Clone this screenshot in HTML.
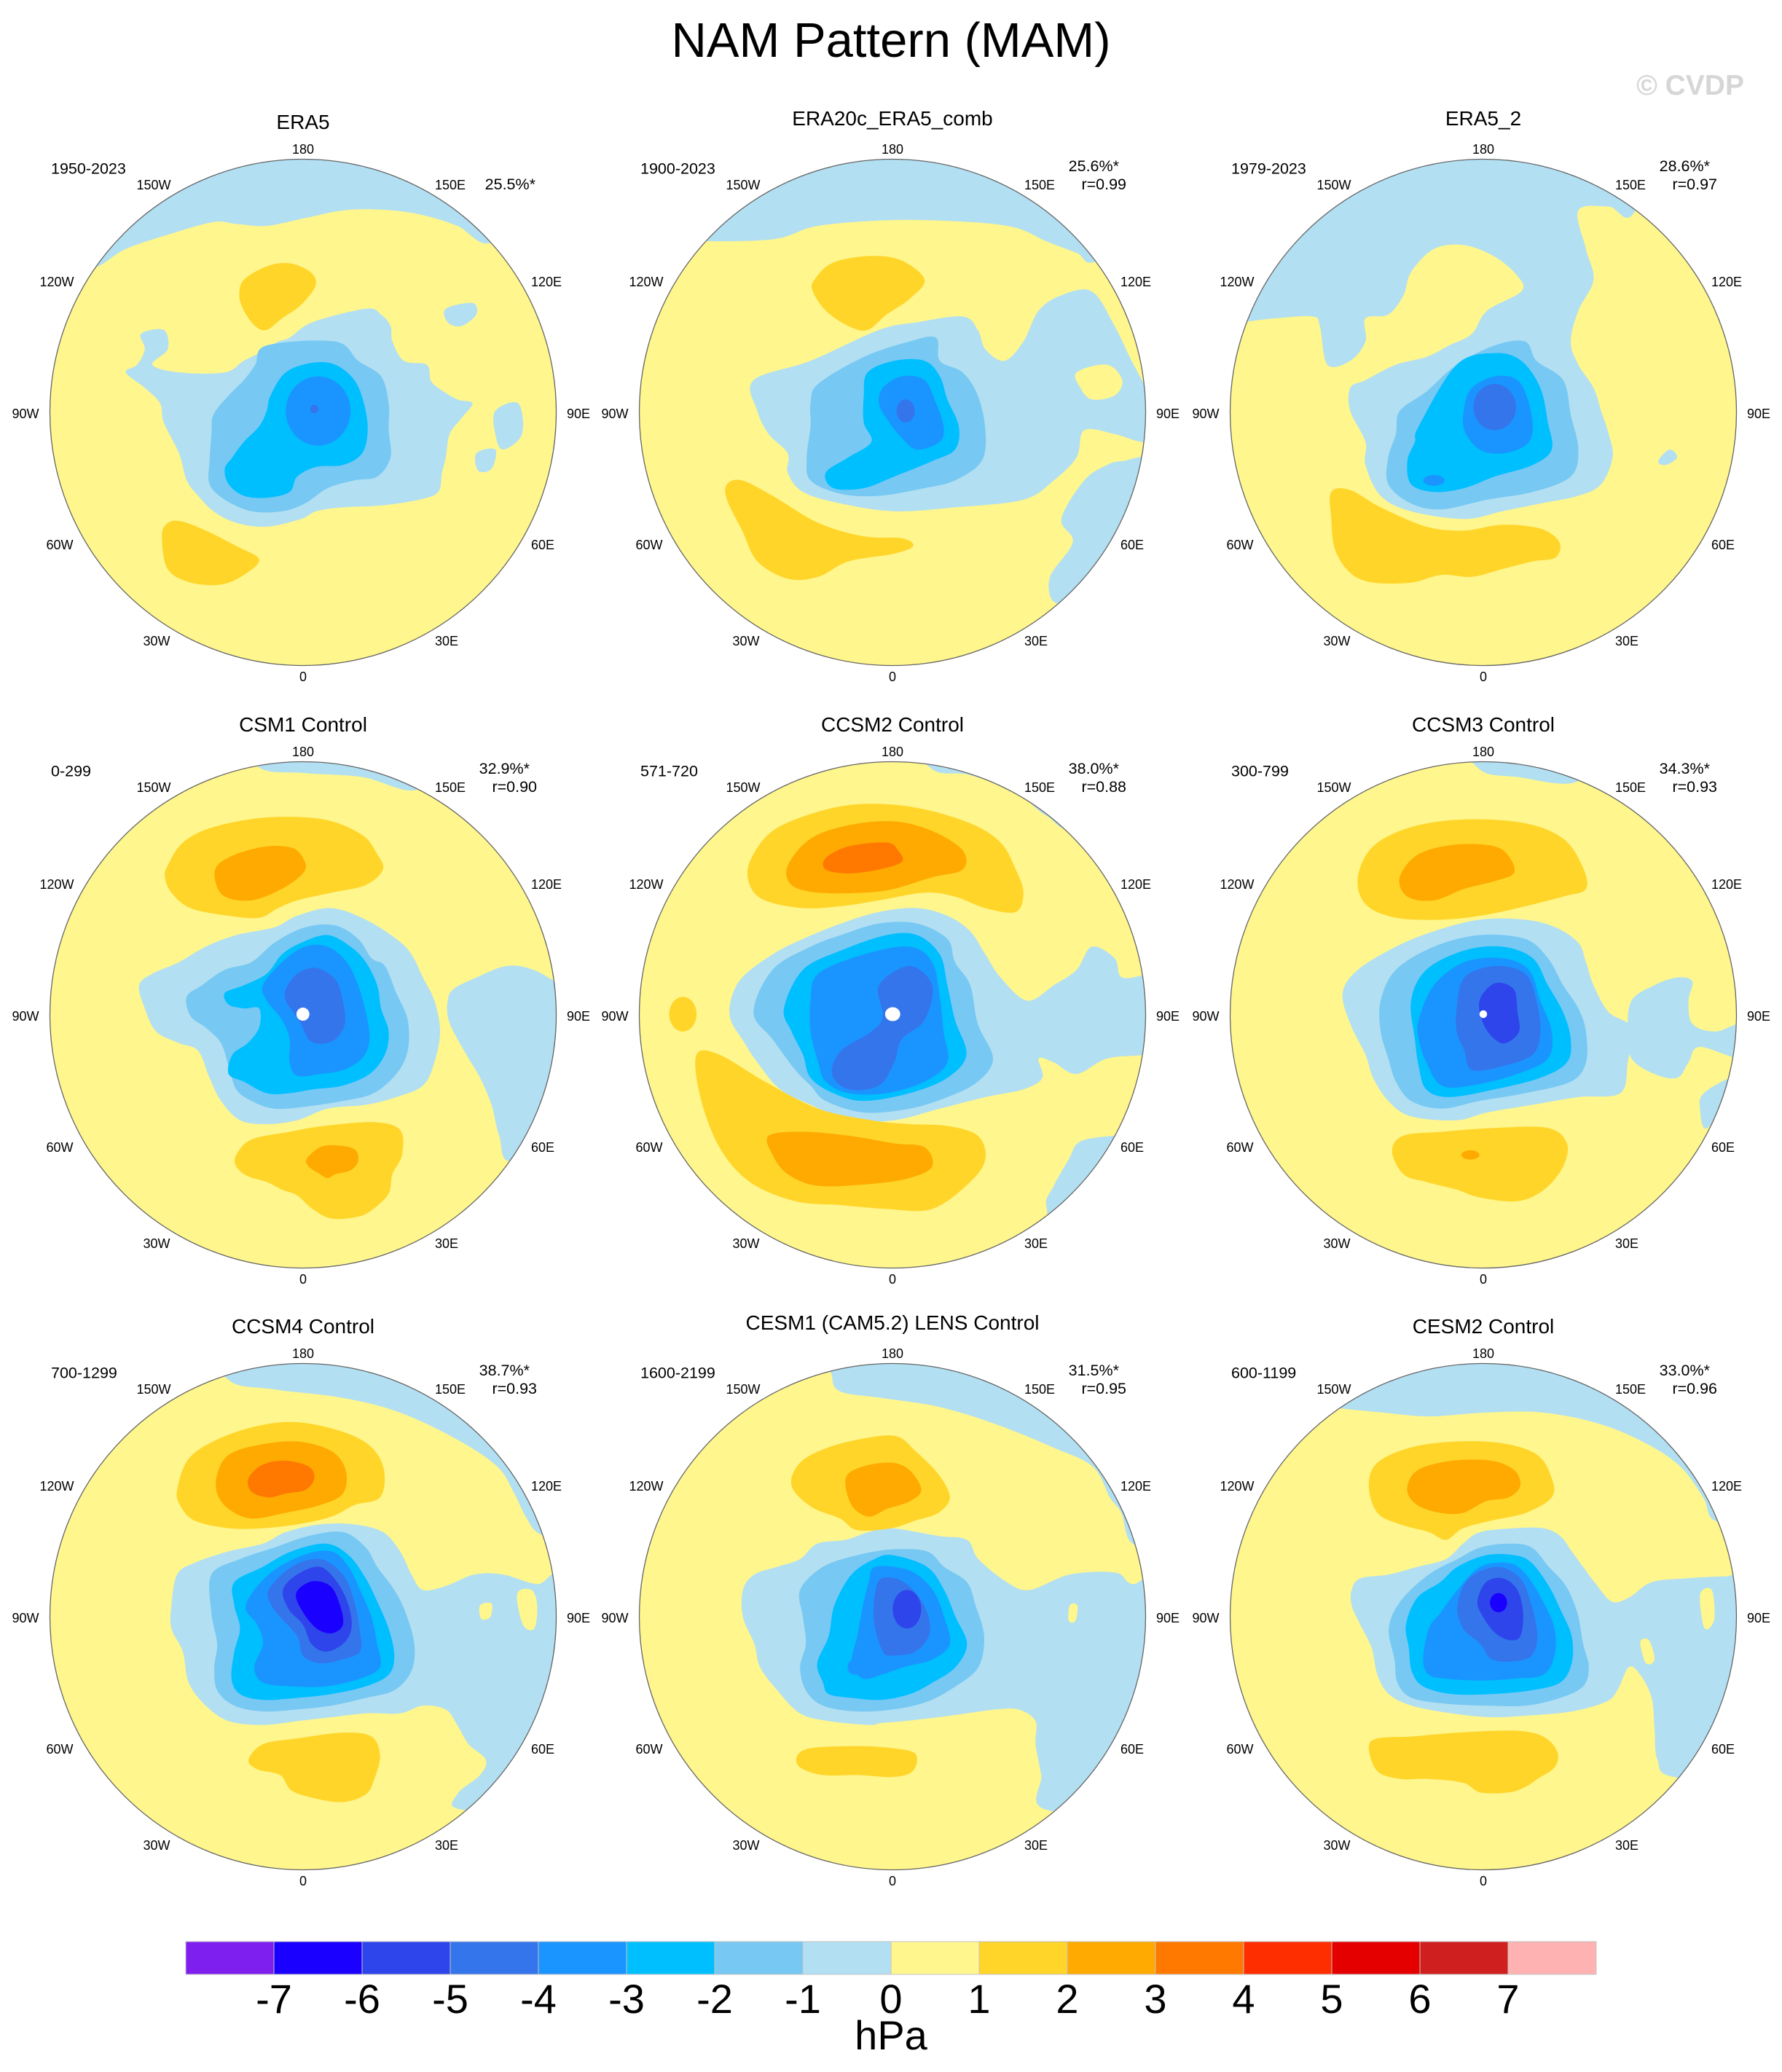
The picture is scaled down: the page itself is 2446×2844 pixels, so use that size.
<!DOCTYPE html>
<html>
<head>
<meta charset="utf-8">
<style>
html,body{margin:0;padding:0;background:#fff;}
svg{display:block;}
text{font-family:"Liberation Sans",Arial,Helvetica,sans-serif;fill:#000;}
</style>
</head>
<body>
<svg id="fig" width="2446" height="2844" viewBox="0 0 2446 2844" xmlns="http://www.w3.org/2000/svg">
<defs>
<clipPath id="k1"><circle cx="416" cy="566" r="347.5"/></clipPath>
<clipPath id="k2"><circle cx="1225" cy="566" r="347.5"/></clipPath>
<clipPath id="k3"><circle cx="2036" cy="566" r="347.5"/></clipPath>
<clipPath id="k4"><circle cx="416" cy="1393" r="347.5"/></clipPath>
<clipPath id="k5"><circle cx="1225" cy="1393" r="347.5"/></clipPath>
<clipPath id="k6"><circle cx="2036" cy="1393" r="347.5"/></clipPath>
<clipPath id="k7"><circle cx="416" cy="2219" r="347.5"/></clipPath>
<clipPath id="k8"><circle cx="1225" cy="2219" r="347.5"/></clipPath>
<clipPath id="k9"><circle cx="2036" cy="2219" r="347.5"/></clipPath>
</defs>
<rect x="0" y="0" width="2446" height="2844" fill="#fff"/>

<!-- Main title -->
<text x="1223" y="78" font-size="67" text-anchor="middle">NAM Pattern (MAM)</text>
<text x="2394" y="130" font-size="39" font-weight="bold" text-anchor="end" style="fill:#d6d6d6">© CVDP</text>

<!-- ===== Panel 1 ERA5 ===== -->
<g clip-path="url(#k1)">
<circle cx="416" cy="566" r="347.5" fill="#FFF68D"/>
<g transform="translate(0,130) scale(0.52301,0.52938)">
<polygon fill="#B2DFF2" points="245,450 330,400 450,360 560,330 620,335 700,340 800,320 900,300 1000,298 1100,310 1200,340 1285,385 1400,300 1400,0 200,0 150,450"/>
<polygon fill="#FFD52A" points="640,480 700,445 760,437 815,460 828,495 790,545 740,580 700,610 670,600 640,560 628,520"/>
<polygon fill="#FFD52A" points="425,1150 440,1230 500,1265 580,1270 640,1245 680,1205 620,1170 540,1130 470,1105 435,1115"/>
<polygon fill="#B2DFF2" points="760,630 820,590 960,555 1000,570 1025,600 1030,640 1060,690 1120,700 1130,740 1150,760 1200,790 1240,800 1210,840 1180,880 1170,940 1160,980 1150,1030 1100,1050 1000,1065 900,1070 830,1080 790,1100 700,1120 620,1110 560,1080 520,1040 490,1000 470,930 430,850 420,800 380,760 330,720 360,700 380,660 370,620 430,610 440,660 400,700 470,720 590,720 640,690 700,660 730,640"/>
<polygon fill="#B2DFF2" points="1170,555 1240,540 1250,570 1210,600 1175,590"/>
<polygon fill="#B2DFF2" points="1300,820 1360,800 1370,880 1320,920 1300,880"/>
<polygon fill="#B2DFF2" points="1250,930 1300,920 1290,970 1255,975"/>
<polygon fill="#77C8F3" points="700,650 880,640 940,690 1000,730 1020,800 1020,870 1025,940 990,990 930,1000 860,1020 800,1060 740,1080 660,1080 590,1050 550,1010 550,950 555,880 560,830 600,780 640,740 670,700"/>
<polygon fill="#00BFFF" points="710,780 750,720 820,695 880,700 930,740 955,800 965,870 950,930 900,960 830,965 780,990 760,1030 700,1045 640,1040 600,1010 590,970 610,940 640,900 680,860 700,820"/>
<ellipse fill="#1A95FF" cx="835" cy="820" rx="85" ry="90"/>
<ellipse fill="#3475EC" cx="825" cy="815" rx="11" ry="11"/>
</g>
</g>
<circle cx="416" cy="566" r="347.5" fill="none" stroke="#666" stroke-width="1.3"/>
<g transform="translate(416,566)">
<text x="0" y="-389" font-size="28" text-anchor="middle">ERA5</text>
<text x="-346" y="-327.5" font-size="21.5">1950-2023</text>
<text x="319" y="-306" font-size="21.5" text-anchor="end">25.5%*</text>
<g font-size="18" text-anchor="middle">
<text x="0" y="-355">180</text><text x="-205" y="-306">150W</text><text x="202" y="-306">150E</text>
<text x="-338" y="-173">120W</text><text x="334" y="-173">120E</text>
<text x="-381" y="8">90W</text><text x="378" y="8">90E</text>
<text x="-334" y="188">60W</text><text x="329" y="188">60E</text>
<text x="-201" y="320">30W</text><text x="197" y="320">30E</text>
<text x="0" y="369">0</text>
</g>
</g>

<!-- ===== Panel 2 ERA20c_ERA5_comb ===== -->
<g clip-path="url(#k2)">
<circle cx="1225" cy="566" r="347.5" fill="#FFF68D"/>
<g transform="translate(810,130) scale(1.04341,0.52938)">
<polygon fill="#B2DFF2" points="130,380 240,375 300,340 400,325 500,330 560,345 600,380 640,410 668,430 760,300 760,0 60,0 60,380"/>
<polygon fill="#FFD52A" points="295,480 320,435 370,418 410,430 440,480 420,530 390,570 365,610 340,600 310,560 293,510"/>
<polygon fill="#FFD52A" points="180,1010 200,1000 240,1040 300,1110 360,1145 410,1150 425,1170 400,1190 340,1210 300,1250 260,1255 220,1210 200,1130 180,1050"/>
<polygon fill="#B2DFF2" points="215,740 290,690 380,610 430,590 490,575 510,610 520,660 545,690 570,640 590,560 620,520 660,510 690,600 715,700 740,780 760,780 760,900 725,900 690,880 650,870 640,940 610,1000 570,1050 480,1070 400,1080 330,1060 280,1030 260,980 260,930 235,880 220,820"/>
<polygon fill="#B2DFF2" points="700,950 740,950 740,1100 700,1200 640,1300 610,1315 605,1250 635,1160 620,1100 650,1000 680,960"/>
<polygon fill="#FFF68D" points="640,720 680,700 700,740 690,780 660,790 645,760"/>
<polygon fill="#77C8F3" points="300,750 360,680 420,640 455,630 460,690 490,720 510,780 520,870 515,950 480,1000 440,1020 380,1040 330,1035 290,1000 285,940 290,860 290,800"/>
<polygon fill="#00BFFF" points="365,720 400,690 440,690 460,730 470,790 485,860 480,920 450,950 400,990 360,1020 320,1020 310,980 340,940 370,900 360,850 360,780"/>
<polygon fill="#1A95FF" points="385,760 410,730 440,740 455,800 465,860 460,900 430,920 410,890 390,840 380,800"/>
<ellipse fill="#3475EC" cx="415" cy="820" rx="12" ry="30"/>
</g>
</g>
<circle cx="1225" cy="566" r="347.5" fill="none" stroke="#666" stroke-width="1.3"/>
<g transform="translate(1225,566)">
<text x="0" y="-394" font-size="28" text-anchor="middle">ERA20c_ERA5_comb</text>
<text x="-346" y="-327.5" font-size="21.5">1900-2023</text>
<text x="311" y="-331" font-size="21.5" text-anchor="end">25.6%*</text>
<text x="321" y="-306" font-size="21.5" text-anchor="end">r=0.99</text>
<g font-size="18" text-anchor="middle">
<text x="0" y="-355">180</text><text x="-205" y="-306">150W</text><text x="202" y="-306">150E</text>
<text x="-338" y="-173">120W</text><text x="334" y="-173">120E</text>
<text x="-381" y="8">90W</text><text x="378" y="8">90E</text>
<text x="-334" y="188">60W</text><text x="329" y="188">60E</text>
<text x="-201" y="320">30W</text><text x="197" y="320">30E</text>
<text x="0" y="369">0</text>
</g>
</g>

<!-- ===== Panel 3 ERA5_2 ===== -->
<g clip-path="url(#k3)">
<circle cx="2036" cy="566" r="347.5" fill="#FFF68D"/>
<g transform="translate(810,130) scale(1.04341,0.52938)">
<polygon fill="#B2DFF2" points="850,590 900,580 950,575 960,600 970,700 1000,690 1020,640 1020,580 1050,570 1070,520 1080,460 1110,400 1150,390 1190,420 1220,470 1225,510 1180,560 1160,620 1130,650 1100,680 1060,700 1020,740 1000,760 1000,820 1020,900 1020,960 1040,1040 1080,1080 1150,1100 1200,1080 1250,1060 1300,1040 1330,1010 1345,940 1340,880 1330,820 1320,760 1300,700 1290,640 1300,560 1320,480 1310,400 1300,300 1340,290 1375,300 1420,0 780,0 780,590"/>
<polygon fill="#B2DFF2" points="1405,950 1420,920 1430,940 1415,960"/>
<polygon fill="#FFD52A" points="975,1030 1000,1025 1040,1070 1100,1120 1150,1130 1200,1115 1250,1125 1275,1160 1270,1200 1240,1210 1200,1230 1160,1250 1120,1245 1080,1265 1030,1265 1000,1240 980,1180 975,1100"/>
<polygon fill="#77C8F3" points="1065,820 1100,770 1140,700 1190,650 1230,640 1245,690 1280,740 1290,830 1300,920 1290,990 1240,1030 1180,1050 1120,1075 1080,1060 1050,1010 1050,940 1060,880"/>
<polygon fill="#00BFFF" points="1090,860 1140,700 1190,670 1225,690 1250,760 1260,850 1265,920 1240,960 1190,990 1150,1020 1110,1030 1080,1010 1075,950 1085,900"/>
<polygon fill="#1A95FF" points="1160,760 1190,730 1220,740 1235,800 1240,870 1230,910 1200,930 1170,920 1150,870 1150,810"/>
<ellipse fill="#1A95FF" cx="1110" cy="1000" rx="14" ry="14"/>
<ellipse fill="#3475EC" cx="1190" cy="810" rx="28" ry="60"/>
</g>
</g>
<circle cx="2036" cy="566" r="347.5" fill="none" stroke="#666" stroke-width="1.3"/>
<g transform="translate(2036,566)">
<text x="0" y="-394" font-size="28" text-anchor="middle">ERA5_2</text>
<text x="-346" y="-327.5" font-size="21.5">1979-2023</text>
<text x="311" y="-331" font-size="21.5" text-anchor="end">28.6%*</text>
<text x="321" y="-306" font-size="21.5" text-anchor="end">r=0.97</text>
<g font-size="18" text-anchor="middle">
<text x="0" y="-355">180</text><text x="-205" y="-306">150W</text><text x="202" y="-306">150E</text>
<text x="-338" y="-173">120W</text><text x="334" y="-173">120E</text>
<text x="-381" y="8">90W</text><text x="378" y="8">90E</text>
<text x="-334" y="188">60W</text><text x="329" y="188">60E</text>
<text x="-201" y="320">30W</text><text x="197" y="320">30E</text>
<text x="0" y="369">0</text>
</g>
</g>

<!-- ===== Panel 4 CSM1 Control ===== -->
<g clip-path="url(#k4)">
<circle cx="416" cy="1393" r="347.5" fill="#FFF68D"/>
<g transform="translate(0,950) scale(0.52301,0.52938)">
<polygon fill="#B2DFF2" points="650,100 1150,100 1100,250 950,220 800,210 680,195"/>
<polygon fill="#B2DFF2" points="1175,800 1190,770 1250,740 1330,710 1400,720 1470,760 1520,800 1520,1100 1345,1215 1310,1150 1290,1070 1260,1000 1230,950 1190,880 1175,840"/>
<polygon fill="#FFD52A" points="440,450 480,390 560,350 700,325 850,330 950,370 990,420 1005,460 960,500 870,520 780,540 730,560 680,585 600,580 500,560 450,520 433,480"/>
<polygon fill="#FFAA00" points="570,450 620,420 700,400 770,405 800,440 795,470 740,510 660,540 590,530 565,490"/>
<polygon fill="#FFD52A" points="620,1200 660,1160 760,1140 850,1125 980,1115 1050,1135 1055,1200 1030,1250 1020,1300 980,1340 940,1360 870,1365 820,1340 780,1305 740,1290 700,1270 650,1255 620,1230"/>
<polygon fill="#FFAA00" points="805,1210 840,1180 880,1175 930,1185 940,1215 920,1240 880,1250 860,1260 840,1250 810,1230"/>
<polygon fill="#B2DFF2" points="365,760 400,730 470,700 540,660 620,630 720,610 780,580 870,560 960,590 1040,640 1080,680 1110,740 1140,800 1155,880 1140,960 1110,1020 1040,1050 960,1070 860,1080 780,1110 700,1120 630,1110 580,1060 550,1000 520,930 470,910 410,880 380,820"/>
<polygon fill="#77C8F3" points="490,790 530,760 590,720 660,700 720,650 800,610 880,605 940,640 975,690 1010,710 1040,780 1070,850 1070,930 1040,990 980,1040 900,1060 800,1075 720,1080 660,1060 620,1030 600,970 580,910 540,870 500,840"/>
<polygon fill="#00BFFF" points="590,780 640,760 700,730 740,680 790,650 860,630 920,660 960,700 990,760 1000,820 1020,880 1010,940 970,990 900,1020 820,1030 760,1040 700,1040 640,1010 600,990 610,940 650,910 680,870 680,820 640,820 600,810"/>
<polygon fill="#1A95FF" points="690,760 740,700 800,660 860,660 910,700 940,760 960,830 970,900 950,950 900,980 840,990 780,995 760,960 760,900 740,850 700,800"/>
<polygon fill="#3475EC" points="750,770 780,730 830,715 880,745 900,800 905,860 880,900 840,912 810,900 790,860 770,830 750,800"/>
<ellipse fill="#FFFFFF" cx="795" cy="835" rx="17" ry="17"/>
</g>
</g>
<circle cx="416" cy="1393" r="347.5" fill="none" stroke="#666" stroke-width="1.3"/>
<g transform="translate(416,1393)">
<text x="0" y="-389" font-size="28" text-anchor="middle">CSM1 Control</text>
<text x="-346" y="-327.5" font-size="21.5">0-299</text>
<text x="311" y="-331" font-size="21.5" text-anchor="end">32.9%*</text>
<text x="321" y="-306" font-size="21.5" text-anchor="end">r=0.90</text>
<g font-size="18" text-anchor="middle">
<text x="0" y="-355">180</text><text x="-205" y="-306">150W</text><text x="202" y="-306">150E</text>
<text x="-338" y="-173">120W</text><text x="334" y="-173">120E</text>
<text x="-381" y="8">90W</text><text x="378" y="8">90E</text>
<text x="-334" y="188">60W</text><text x="329" y="188">60E</text>
<text x="-201" y="320">30W</text><text x="197" y="320">30E</text>
<text x="0" y="369">0</text>
</g>
</g>

<!-- ===== Panel 5 CCSM2 Control ===== -->
<g clip-path="url(#k5)">
<circle cx="1225" cy="1393" r="347.5" fill="#FFF68D"/>
<g transform="translate(810,950) scale(1.04341,0.52938)">
<polygon fill="#B2DFF2" points="430,100 720,100 640,340 600,320 560,260 500,215 450,200"/>
<polygon fill="#B2DFF2" points="185,800 200,740 240,680 280,640 330,600 380,570 430,560 470,580 500,620 520,680 540,740 575,800 610,760 640,720 660,660 690,690 700,740 740,730 780,730 780,920 730,940 680,950 640,990 610,960 590,950 595,1000 570,1030 520,1050 460,1080 400,1110 340,1110 290,1070 250,1030 220,960 200,900 185,850"/>
<polygon fill="#B2DFF2" points="600,1330 610,1280 630,1210 645,1165 690,1150 720,1150 700,1250 620,1400"/>
<ellipse fill="#FFD52A" cx="122" cy="835" rx="18" ry="45"/>
<polygon fill="#FFD52A" points="210,440 240,360 300,310 360,290 430,300 500,340 540,390 560,460 570,520 560,570 520,560 480,530 440,520 380,540 330,555 280,560 230,540 210,500"/>
<polygon fill="#FFAA00" points="260,450 290,380 340,345 400,335 450,360 490,410 490,460 450,480 400,510 360,520 300,520 265,500"/>
<polygon fill="#FF7800" points="310,430 340,400 390,390 405,410 410,440 380,460 340,470 310,460"/>
<polygon fill="#FFD52A" points="140,940 170,940 230,1010 300,1080 370,1110 420,1120 470,1125 510,1150 520,1210 500,1270 450,1340 390,1340 330,1330 270,1320 210,1270 170,1180 145,1050"/>
<polygon fill="#FFAA00" points="235,1150 280,1140 340,1150 400,1170 440,1180 450,1230 420,1260 370,1275 300,1280 260,1250 240,1200"/>
<polygon fill="#77C8F3" points="215,830 240,720 290,660 330,630 380,600 430,600 470,640 480,700 500,760 510,860 530,950 510,1010 470,1050 420,1080 360,1090 310,1060 290,1020 270,980 240,900"/>
<polygon fill="#00BFFF" points="255,820 280,720 330,670 390,630 430,630 460,680 470,760 480,850 495,940 470,1000 420,1040 360,1060 320,1040 290,1000 280,940 265,880"/>
<polygon fill="#1A95FF" points="290,800 300,730 360,680 420,660 450,700 460,790 465,880 470,960 440,1010 390,1040 340,1040 310,1010 300,960 290,880"/>
<polygon fill="#3475EC" points="380,760 420,710 450,760 440,850 410,900 400,960 380,1020 340,1030 318,990 330,930 370,880 385,840"/>
<ellipse fill="#FFFFFF" cx="398" cy="835" rx="10" ry="18"/>
</g>
</g>
<circle cx="1225" cy="1393" r="347.5" fill="none" stroke="#666" stroke-width="1.3"/>
<g transform="translate(1225,1393)">
<text x="0" y="-389" font-size="28" text-anchor="middle">CCSM2 Control</text>
<text x="-346" y="-327.5" font-size="21.5">571-720</text>
<text x="311" y="-331" font-size="21.5" text-anchor="end">38.0%*</text>
<text x="321" y="-306" font-size="21.5" text-anchor="end">r=0.88</text>
<g font-size="18" text-anchor="middle">
<text x="0" y="-355">180</text><text x="-205" y="-306">150W</text><text x="202" y="-306">150E</text>
<text x="-338" y="-173">120W</text><text x="334" y="-173">120E</text>
<text x="-381" y="8">90W</text><text x="378" y="8">90E</text>
<text x="-334" y="188">60W</text><text x="329" y="188">60E</text>
<text x="-201" y="320">30W</text><text x="197" y="320">30E</text>
<text x="0" y="369">0</text>
</g>
</g>

<!-- ===== Panel 6 CCSM3 Control ===== -->
<g clip-path="url(#k6)">
<circle cx="2036" cy="1393" r="347.5" fill="#FFF68D"/>
<g transform="translate(810,950) scale(1.04341,0.52938)">
<polygon fill="#B2DFF2" points="1150,100 1320,100 1300,230 1220,220 1170,200"/>
<polygon fill="#B2DFF2" points="1370,800 1400,760 1430,740 1450,750 1445,800 1450,860 1480,880 1520,860 1520,950 1460,920 1445,960 1430,1000 1400,990 1370,950 1365,880"/>
<polygon fill="#B2DFF2" points="1465,1040 1500,1000 1510,1010 1470,1130 1460,1080"/>
<polygon fill="#FFD52A" points="1010,480 1030,400 1080,350 1150,330 1230,340 1280,380 1305,450 1310,510 1280,530 1220,560 1170,580 1120,590 1060,585 1020,550"/>
<polygon fill="#FFAA00" points="1065,480 1090,420 1140,395 1190,400 1210,430 1215,470 1190,490 1150,510 1110,540 1075,530"/>
<polygon fill="#FFD52A" points="1055,1190 1070,1150 1120,1140 1190,1130 1260,1130 1285,1170 1280,1230 1255,1290 1220,1320 1170,1310 1140,1290 1100,1270 1070,1250"/>
<ellipse fill="#FFAA00" cx="1158" cy="1200" rx="12" ry="12"/>
<polygon fill="#B2DFF2" points="990,780 1010,720 1060,660 1110,620 1170,590 1230,590 1270,610 1300,650 1310,700 1320,760 1340,830 1370,870 1365,960 1355,1040 1300,1050 1240,1070 1180,1090 1140,1110 1080,1100 1050,1060 1030,1000 1020,940 1000,860"/>
<polygon fill="#77C8F3" points="1040,800 1060,720 1110,660 1170,630 1230,640 1260,690 1280,760 1300,820 1310,880 1310,960 1290,1010 1230,1040 1170,1060 1120,1080 1080,1060 1060,1010 1050,950 1040,880"/>
<polygon fill="#00BFFF" points="1080,800 1100,720 1150,670 1200,660 1240,690 1260,760 1280,830 1290,900 1285,960 1250,1000 1190,1030 1130,1050 1100,1030 1090,970 1085,900"/>
<polygon fill="#1A95FF" points="1090,850 1110,760 1150,700 1200,690 1235,720 1250,800 1265,880 1260,950 1220,990 1160,1020 1120,1020 1100,960 1090,900"/>
<polygon fill="#3475EC" points="1140,820 1150,740 1190,710 1230,730 1245,800 1250,880 1240,940 1200,970 1160,980 1150,930 1140,880"/>
<polygon fill="#2E45EB" points="1170,800 1190,755 1215,770 1220,830 1222,880 1205,910 1190,900 1175,860"/>
<ellipse fill="#FFFFFF" cx="1175" cy="835" rx="5" ry="10"/>
</g>
</g>
<circle cx="2036" cy="1393" r="347.5" fill="none" stroke="#666" stroke-width="1.3"/>
<g transform="translate(2036,1393)">
<text x="0" y="-389" font-size="28" text-anchor="middle">CCSM3 Control</text>
<text x="-346" y="-327.5" font-size="21.5">300-799</text>
<text x="311" y="-331" font-size="21.5" text-anchor="end">34.3%*</text>
<text x="321" y="-306" font-size="21.5" text-anchor="end">r=0.93</text>
<g font-size="18" text-anchor="middle">
<text x="0" y="-355">180</text><text x="-205" y="-306">150W</text><text x="202" y="-306">150E</text>
<text x="-338" y="-173">120W</text><text x="334" y="-173">120E</text>
<text x="-381" y="8">90W</text><text x="378" y="8">90E</text>
<text x="-334" y="188">60W</text><text x="329" y="188">60E</text>
<text x="-201" y="320">30W</text><text x="197" y="320">30E</text>
<text x="0" y="369">0</text>
</g>
</g>

<!-- ===== Panel 7 CCSM4 Control ===== -->
<g clip-path="url(#k7)">
<circle cx="416" cy="2219" r="347.5" fill="#FFF68D"/>
<g transform="translate(0,1780) scale(0.78444,0.52938)">
<polygon fill="#B2DFF2" points="380,100 1000,100 1000,620 945,615 920,570 900,510 870,440 800,370 700,300 600,262 480,240 400,215"/>
<polygon fill="#B2DFF2" points="300,800 310,720 340,690 400,660 460,640 500,610 560,590 620,590 670,610 700,660 720,720 740,760 780,750 830,720 880,720 940,745 1000,740 1000,1330 810,1330 800,1290 840,1240 850,1200 820,1160 800,1110 780,1070 740,1060 700,1080 640,1080 580,1090 520,1100 460,1110 400,1100 360,1060 330,1000 320,920 300,860"/>
<polygon fill="#FFF68D" points="905,770 930,760 940,800 935,860 915,850"/>
<polygon fill="#FFF68D" points="840,800 860,795 858,830 842,835"/>
<polygon fill="#FFD52A" points="310,500 330,420 380,370 450,335 520,325 600,350 650,390 672,450 665,520 620,540 580,570 520,590 460,600 400,600 340,580 315,540"/>
<polygon fill="#FFAA00" points="380,460 400,410 450,385 520,375 580,400 605,450 600,510 560,540 500,560 440,575 400,550 380,510"/>
<polygon fill="#FF7800" points="435,470 460,435 500,425 540,440 550,470 535,500 500,510 470,520 440,505"/>
<polygon fill="#FFD52A" points="435,1200 460,1160 520,1145 600,1130 650,1140 665,1190 655,1250 640,1290 600,1310 550,1300 510,1280 490,1240 450,1225"/>
<polygon fill="#77C8F3" points="370,720 420,680 480,650 540,620 600,610 640,650 660,700 690,760 710,820 725,900 720,970 690,1020 640,1040 580,1060 520,1070 460,1075 410,1060 380,1020 375,960 380,900 370,820"/>
<polygon fill="#00BFFF" points="410,740 460,700 510,660 570,640 610,670 640,730 660,790 680,860 690,930 680,980 640,1010 580,1030 520,1040 460,1045 420,1030 405,990 410,920 420,860 410,800"/>
<polygon fill="#1A95FF" points="430,800 470,720 530,670 580,660 610,700 630,760 650,830 660,900 665,960 630,990 570,1010 510,1010 460,1000 445,960 460,900 450,850"/>
<polygon fill="#3475EC" points="470,760 510,700 560,680 600,720 620,790 630,870 630,920 600,940 560,950 530,930 520,880 490,830 475,800"/>
<polygon fill="#2E45EB" points="495,760 520,720 560,700 590,740 610,800 615,860 600,900 570,920 545,900 530,850 505,810"/>
<polygon fill="#1A00FF" points="518,770 545,738 578,750 595,800 600,850 582,872 556,862 532,822"/>
</g>
</g>
<circle cx="416" cy="2219" r="347.5" fill="none" stroke="#666" stroke-width="1.3"/>
<g transform="translate(416,2219)">
<text x="0" y="-389" font-size="28" text-anchor="middle">CCSM4 Control</text>
<text x="-346" y="-327.5" font-size="21.5">700-1299</text>
<text x="311" y="-331" font-size="21.5" text-anchor="end">38.7%*</text>
<text x="321" y="-306" font-size="21.5" text-anchor="end">r=0.93</text>
<g font-size="18" text-anchor="middle">
<text x="0" y="-355">180</text><text x="-205" y="-306">150W</text><text x="202" y="-306">150E</text>
<text x="-338" y="-173">120W</text><text x="334" y="-173">120E</text>
<text x="-381" y="8">90W</text><text x="378" y="8">90E</text>
<text x="-334" y="188">60W</text><text x="329" y="188">60E</text>
<text x="-201" y="320">30W</text><text x="197" y="320">30E</text>
<text x="0" y="369">0</text>
</g>
</g>

<!-- ===== Panel 8 CESM1 (CAM5.2) LENS Control ===== -->
<g clip-path="url(#k8)">
<circle cx="1225" cy="2219" r="347.5" fill="#FFF68D"/>
<g transform="translate(0,1780) scale(0.78444,0.52938)">
<polygon fill="#B2DFF2" points="1450,100 2050,100 2050,640 1982,640 1962,560 1942,520 1912,440 1842,390 1742,330 1642,285 1542,262 1470,245 1455,200"/>
<polygon fill="#B2DFF2" points="1300,760 1320,720 1360,700 1400,680 1430,640 1480,630 1520,610 1560,600 1642,620 1692,630 1712,680 1762,740 1802,760 1872,720 1952,715 1982,745 2050,745 2050,1320 1832,1330 1822,1240 1812,1160 1812,1100 1782,1070 1742,1070 1692,1080 1642,1090 1582,1100 1542,1105 1520,1110 1450,1100 1400,1080 1360,1020 1330,960 1320,900 1300,830"/>
<polygon fill="#FFF68D" points="1872,800 1885,800 1882,840 1870,840"/>
<polygon fill="#FFD52A" points="1385,490 1400,430 1450,390 1520,365 1570,362 1602,400 1642,460 1662,520 1642,560 1602,580 1560,600 1500,605 1470,575 1420,545"/>
<polygon fill="#FFAA00" points="1480,470 1510,440 1560,430 1592,450 1612,500 1592,530 1552,550 1520,570 1490,540"/>
<polygon fill="#FFD52A" points="1395,1190 1420,1170 1500,1165 1560,1170 1602,1185 1597,1230 1562,1245 1500,1240 1440,1240 1400,1220"/>
<polygon fill="#77C8F3" points="1405,830 1400,760 1440,700 1500,670 1560,655 1622,660 1652,700 1692,740 1707,800 1722,880 1712,960 1672,1010 1622,1050 1562,1070 1500,1075 1440,1060 1410,1020 1400,960 1410,900"/>
<polygon fill="#00BFFF" points="1460,800 1490,720 1530,680 1562,670 1622,700 1652,760 1672,830 1692,900 1672,960 1632,1000 1592,1030 1542,1045 1490,1040 1450,1030 1440,1000 1430,950 1450,880"/>
<polygon fill="#1A95FF" points="1520,740 1532,700 1592,710 1632,760 1652,830 1662,900 1632,940 1582,960 1542,980 1510,990 1490,950 1500,880 1510,800"/>
<ellipse fill="#1A95FF" cx="1495" cy="960" rx="12" ry="20"/>
<polygon fill="#3475EC" points="1530,780 1542,730 1582,740 1617,800 1627,870 1602,920 1562,930 1545,920 1530,850"/>
<ellipse fill="#2E45EB" cx="1587" cy="810" rx="25" ry="50"/>
</g>
</g>
<circle cx="1225" cy="2219" r="347.5" fill="none" stroke="#666" stroke-width="1.3"/>
<g transform="translate(1225,2219)">
<text x="0" y="-394" font-size="28" text-anchor="middle">CESM1 (CAM5.2) LENS Control</text>
<text x="-346" y="-327.5" font-size="21.5">1600-2199</text>
<text x="311" y="-331" font-size="21.5" text-anchor="end">31.5%*</text>
<text x="321" y="-306" font-size="21.5" text-anchor="end">r=0.95</text>
<g font-size="18" text-anchor="middle">
<text x="0" y="-355">180</text><text x="-205" y="-306">150W</text><text x="202" y="-306">150E</text>
<text x="-338" y="-173">120W</text><text x="334" y="-173">120E</text>
<text x="-381" y="8">90W</text><text x="378" y="8">90E</text>
<text x="-334" y="188">60W</text><text x="329" y="188">60E</text>
<text x="-201" y="320">30W</text><text x="197" y="320">30E</text>
<text x="0" y="369">0</text>
</g>
</g>

<!-- ===== Panel 9 CESM2 Control ===== -->
<g clip-path="url(#k9)">
<circle cx="2036" cy="2219" r="347.5" fill="#FFF68D"/>
<g transform="translate(1216,1780) scale(0.78444,0.52938)">
<polygon fill="#B2DFF2" points="760,100 1520,100 1520,580 1450,580 1430,520 1390,440 1330,380 1250,330 1150,300 1050,300 950,310 870,300 800,290 760,280"/>
<polygon fill="#B2DFF2" points="815,760 830,730 880,720 930,700 980,680 1010,640 1040,610 1100,600 1150,600 1180,620 1200,660 1220,700 1240,740 1270,790 1300,780 1340,740 1400,730 1470,725 1550,725 1550,1250 1380,1245 1350,1200 1345,1120 1340,1040 1320,980 1300,960 1280,1020 1260,1050 1200,1075 1130,1085 1060,1090 990,1080 920,1060 880,1030 860,980 850,910 830,850 815,800"/>
<polygon fill="#FFF68D" points="1320,895 1335,890 1345,940 1330,950"/>
<polygon fill="#FFF68D" points="1425,770 1445,760 1450,830 1440,860 1430,850"/>
<polygon fill="#FFD52A" points="845,490 860,430 920,390 1000,375 1080,380 1140,410 1165,470 1165,520 1120,560 1060,580 1010,600 980,630 950,610 900,590 860,560"/>
<polygon fill="#FFAA00" points="912,500 930,450 990,425 1060,425 1100,450 1110,490 1090,520 1050,530 1010,560 970,560 930,540"/>
<polygon fill="#FFD52A" points="845,1170 860,1145 920,1140 1000,1130 1100,1125 1150,1140 1175,1180 1170,1220 1140,1250 1120,1270 1090,1285 1040,1285 1010,1260 950,1250 900,1250 860,1230"/>
<polygon fill="#77C8F3" points="880,860 900,790 950,720 1000,680 1040,650 1090,640 1130,650 1160,700 1190,750 1210,820 1220,900 1230,960 1220,1010 1180,1040 1120,1060 1050,1060 980,1055 920,1040 895,1000 890,940"/>
<polygon fill="#00BFFF" points="910,850 930,780 970,740 1000,700 1050,670 1100,670 1130,690 1160,750 1180,810 1200,880 1200,950 1180,1000 1130,1020 1060,1030 990,1030 940,1010 920,970 915,910"/>
<polygon fill="#1A95FF" points="940,940 950,860 970,820 1000,760 1040,700 1090,690 1120,720 1150,790 1170,860 1170,930 1150,980 1100,990 1040,995 980,990 950,980"/>
<polygon fill="#3475EC" points="1000,800 1020,730 1070,700 1110,730 1130,800 1140,880 1130,930 1100,945 1060,940 1040,900 1010,860"/>
<polygon fill="#2E45EB" points="1035,790 1050,740 1080,730 1105,760 1115,820 1110,880 1090,890 1065,870 1045,830"/>
<ellipse fill="#1A00FF" cx="1072" cy="793" rx="15" ry="25"/>
</g>
</g>
<circle cx="2036" cy="2219" r="347.5" fill="none" stroke="#666" stroke-width="1.3"/>
<g transform="translate(2036,2219)">
<text x="0" y="-389" font-size="28" text-anchor="middle">CESM2 Control</text>
<text x="-346" y="-327.5" font-size="21.5">600-1199</text>
<text x="311" y="-331" font-size="21.5" text-anchor="end">33.0%*</text>
<text x="321" y="-306" font-size="21.5" text-anchor="end">r=0.96</text>
<g font-size="18" text-anchor="middle">
<text x="0" y="-355">180</text><text x="-205" y="-306">150W</text><text x="202" y="-306">150E</text>
<text x="-338" y="-173">120W</text><text x="334" y="-173">120E</text>
<text x="-381" y="8">90W</text><text x="378" y="8">90E</text>
<text x="-334" y="188">60W</text><text x="329" y="188">60E</text>
<text x="-201" y="320">30W</text><text x="197" y="320">30E</text>
<text x="0" y="369">0</text>
</g>
</g>

<!-- ===== Colorbar ===== -->
<g stroke="#c4c4c4" stroke-width="1">
<rect x="255" y="2665" width="121" height="45" fill="#7F1FEF"/>
<rect x="376" y="2665" width="121" height="45" fill="#1A00FF"/>
<rect x="497" y="2665" width="121" height="45" fill="#2E45EB"/>
<rect x="618" y="2665" width="121" height="45" fill="#3475EC"/>
<rect x="739" y="2665" width="121" height="45" fill="#1A95FF"/>
<rect x="860" y="2665" width="121" height="45" fill="#00BFFF"/>
<rect x="981" y="2665" width="121" height="45" fill="#77C8F3"/>
<rect x="1102" y="2665" width="121" height="45" fill="#B2DFF2"/>
<rect x="1223" y="2665" width="121" height="45" fill="#FFF68D"/>
<rect x="1344" y="2665" width="121" height="45" fill="#FFD52A"/>
<rect x="1465" y="2665" width="121" height="45" fill="#FFAA00"/>
<rect x="1586" y="2665" width="121" height="45" fill="#FF7800"/>
<rect x="1707" y="2665" width="121" height="45" fill="#FF2E00"/>
<rect x="1828" y="2665" width="121" height="45" fill="#E50000"/>
<rect x="1949" y="2665" width="121" height="45" fill="#D01F1F"/>
<rect x="2070" y="2665" width="121" height="45" fill="#FFB2B2"/>
</g>
<g font-size="56" text-anchor="middle">
<text x="376" y="2763">-7</text>
<text x="497" y="2763">-6</text>
<text x="618" y="2763">-5</text>
<text x="739" y="2763">-4</text>
<text x="860" y="2763">-3</text>
<text x="981" y="2763">-2</text>
<text x="1102" y="2763">-1</text>
<text x="1223" y="2763">0</text>
<text x="1344" y="2763">1</text>
<text x="1465" y="2763">2</text>
<text x="1586" y="2763">3</text>
<text x="1707" y="2763">4</text>
<text x="1828" y="2763">5</text>
<text x="1949" y="2763">6</text>
<text x="2070" y="2763">7</text>
<text x="1223" y="2813">hPa</text>
</g>
</svg>
<script>
(function(){
  try{
    var NS="http://www.w3.org/2000/svg";
    var polys=document.querySelectorAll("#fig polygon");
    for(var i=0;i<polys.length;i++){
      var pg=polys[i];
      var raw=pg.getAttribute("points").trim().split(/\s+/);
      var p=[];
      for(var j=0;j<raw.length;j++){var a=raw[j].split(",");p.push([parseFloat(a[0]),parseFloat(a[1])]);}
      var n=p.length; if(n<3) continue;
      var d="M"+p[0][0]+","+p[0][1];
      for(var k=0;k<n;k++){
        var p0=p[(k-1+n)%n],p1=p[k],p2=p[(k+1)%n],p3=p[(k+2)%n];
        var c1x=p1[0]+(p2[0]-p0[0])/6,c1y=p1[1]+(p2[1]-p0[1])/6;
        var c2x=p2[0]-(p3[0]-p1[0])/6,c2y=p2[1]-(p3[1]-p1[1])/6;
        d+=" C"+c1x.toFixed(1)+","+c1y.toFixed(1)+" "+c2x.toFixed(1)+","+c2y.toFixed(1)+" "+p2[0]+","+p2[1];
      }
      d+="Z";
      var path=document.createElementNS(NS,"path");
      path.setAttribute("d",d);
      path.setAttribute("fill",pg.getAttribute("fill"));
      pg.parentNode.replaceChild(path,pg);
    }
  }catch(e){}
})();
</script>
</body>
</html>
